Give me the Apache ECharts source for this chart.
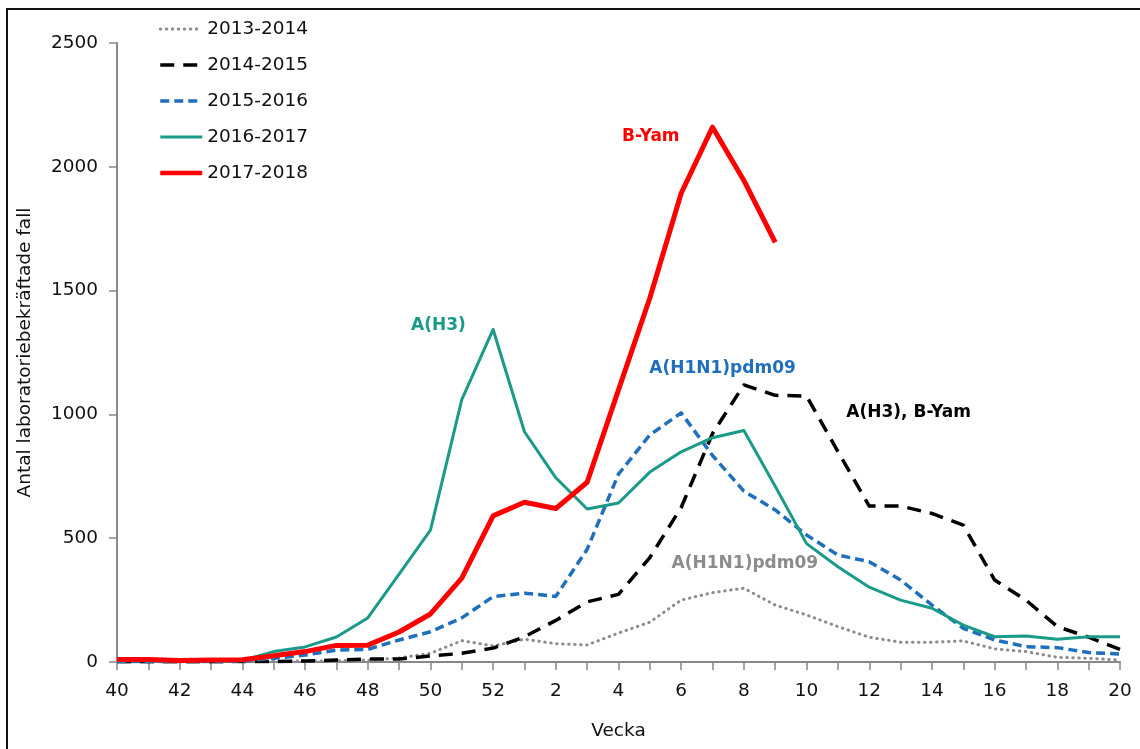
<!DOCTYPE html>
<html>
<head>
<meta charset="utf-8">
<script src="https://cdn.jsdelivr.net/npm/echarts@6/dist/echarts.min.js"></script>
<style>
html,body{margin:0;padding:0;background:#fff;}
#chart{width:1140px;height:749px;}
</style>
</head>
<body>
<div id="chart"></div>
<script>
const weeks = ['40','41','42','43','44','45','46','47','48','49','50','51','52','1','2','3','4','5','6','7','8','9','10','11','12','13','14','15','16','17','18','19','20'];
const yTicks = [0, 500, 1000, 1500, 2000, 2500];
const s2013 = [2,2,1,2,2,3,4,5,8,16,35,86,65,92,74,69,117,161,250,280,298,230,190,143,100,80,80,85,53,42,19,15,8];
const s2014 = [1,1,1,1,2,2,4,8,12,12,24,35,56,102,168,243,273,422,624,923,1119,1077,1074,850,630,630,600,553,331,250,143,100,51];
const s2015 = [2,2,2,2,3,15,28,48,51,89,122,178,264,278,265,455,759,917,1006,834,690,614,513,432,405,331,230,136,89,62,58,38,32];
const s2016 = [5,5,4,5,6,42,61,101,178,355,533,1060,1343,930,744,618,642,767,849,906,935,710,478,385,302,250,217,149,102,105,92,102,102];
const s2017 = [10,10,6,8,9,25,42,67,68,121,194,339,590,645,620,726,1099,1470,1893,2160,1945,1695];
const seriesNames = ['2013-2014','2014-2015','2015-2016','2016-2017','2017-2018'];
const annotations = [
  {text:'A(H3)', week:'50', value:1357, dx:8, color:'#1A9A88', series:3},
  {text:'B-Yam', week:'5', value:2124, dx:1, color:'#FF0000', series:4},
  {text:'A(H1N1)pdm09', week:'7', value:1187, dx:10, color:'#1F6FBD', series:2},
  {text:'A(H3), B-Yam', week:'13', value:1006, dx:8, color:'#000000', series:1},
  {text:'A(H1N1)pdm09', week:'8', value:396, dx:1, color:'#8C8C8C', series:0}
];

const FONT = 'DejaVu Sans';
function mp(idx){
  const d = annotations.filter(a => a.series === idx).map(a => ({
    coord:[a.week, a.value],
    label:{show:true, position:'inside', offset:[a.dx,0], formatter:a.text, color:a.color, fontFamily:FONT, fontWeight:'bold', fontSize:17}
  }));
  return {symbol:'circle', symbolSize:1, silent:true, itemStyle:{color:'rgba(0,0,0,0)'}, data:d, animation:false};
}
const styles = [
  {color:'#8C8C8C', width:3, type:[0.5,5.5], cap:'round'},
  {color:'#000000', width:3.5, type:[14,9], cap:'butt'},
  {color:'#1F6FBD', width:3.5, type:[9,5], cap:'butt'},
  {color:'#1A9A88', width:3, type:'solid', cap:'butt'},
  {color:'#FF0000', width:5, type:'solid', cap:'butt'}
];
const dataSets = [s2013, s2014, s2015, s2016, s2017];

const chart = echarts.init(document.getElementById('chart'), null, {renderer:'canvas'});
chart.setOption({
  animation:false,
  backgroundColor:'#ffffff',
  graphic:[{type:'rect', shape:{x:7, y:9, width:1300, height:900}, style:{fill:'none', stroke:'#111', lineWidth:2}, silent:true, z:-1}],
  grid:{left:117, right:20, top:43, bottom:87, containLabel:false},
  legend:{
    show:true, orient:'vertical', left:153, top:14,
    itemWidth:42, itemHeight:14, itemGap:16,
    data:seriesNames.map((n,i) => ({name:n, lineStyle:{width:Math.min(styles[i].width, 4.5), type:styles[i].type, color:styles[i].color, cap:styles[i].cap}})),
    itemStyle:{opacity:0, color:'rgba(0,0,0,0)', borderWidth:0},
    textStyle:{fontFamily:FONT, fontSize:18.5, color:'#111', lineHeight:20}
  },
  xAxis:{
    type:'category', data:weeks, boundaryGap:false,
    name:'Vecka', nameLocation:'middle', nameGap:60,
    nameTextStyle:{fontFamily:FONT, fontSize:18.5, color:'#111'},
    axisLine:{lineStyle:{color:'#888', width:2}},
    axisTick:{show:true, interval:0, length:8, lineStyle:{color:'#888', width:1.5}},
    axisLabel:{interval:1, margin:20, fontFamily:FONT, fontSize:18.5, color:'#111'},
    splitLine:{show:false}
  },
  yAxis:{
    type:'value', min:yTicks[0], max:yTicks[yTicks.length-1], interval:500,
    name:'Antal laboratoriebekräftade fall', nameLocation:'middle', nameGap:82, nameRotate:90,
    nameTextStyle:{fontFamily:FONT, fontSize:18.5, color:'#111'},
    axisLine:{show:true, lineStyle:{color:'#888', width:2}},
    axisTick:{show:true, length:8, lineStyle:{color:'#888', width:1.5}},
    axisLabel:{margin:19, fontFamily:FONT, fontSize:18.5, color:'#111', formatter: v => String(v)},
    splitLine:{show:false}
  },
  series: seriesNames.map((n,i) => ({
    name:n, type:'line', data:dataSets[i], showSymbol:false, symbol:'none', smooth:false,
    lineStyle:{color:styles[i].color, width:styles[i].width, type:styles[i].type, cap:styles[i].cap, join:'round'},
    itemStyle:{color:styles[i].color},
    z:2+i,
    markPoint: mp(i)
  }))
});
</script>
</body>
</html>
